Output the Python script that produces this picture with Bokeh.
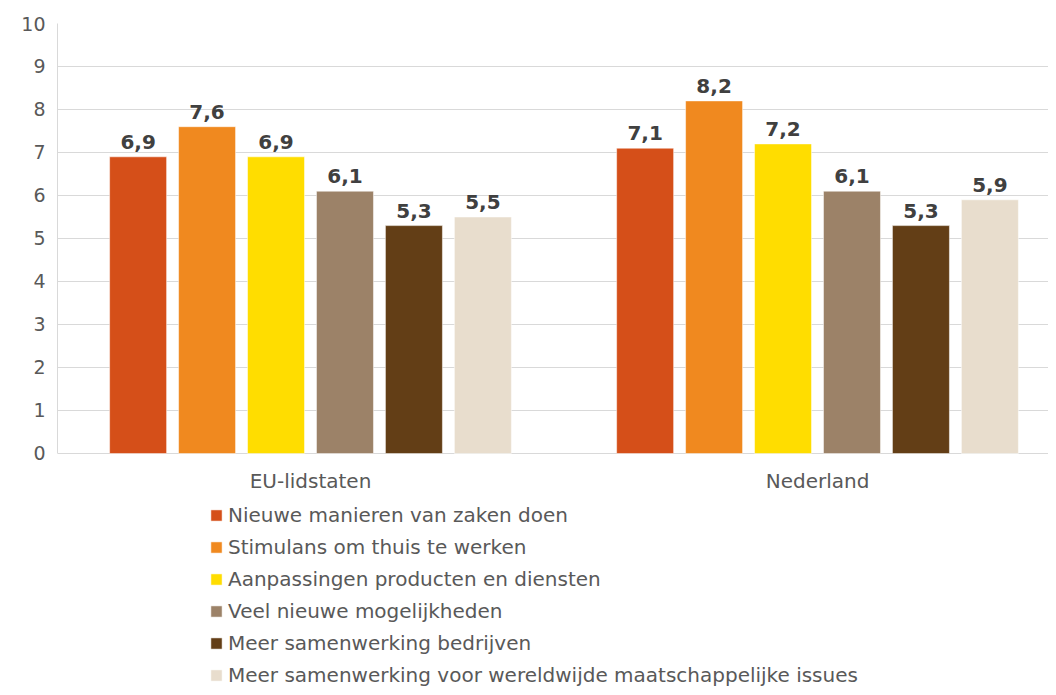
from bokeh.plotting import figure
from bokeh.models import Range1d, FixedTicker, Legend, LegendItem, ColumnDataSource
from bokeh.core.properties import value
from bokeh.embed import file_html
from bokeh.resources import INLINE

categories = ["EU-lidstaten", "Nederland"]
series = [
    "Nieuwe manieren van zaken doen",
    "Stimulans om thuis te werken",
    "Aanpassingen producten en diensten",
    "Veel nieuwe mogelijkheden",
    "Meer samenwerking bedrijven",
    "Meer samenwerking voor wereldwijde maatschappelijke issues",
]
values_eu = [6.9, 7.6, 6.9, 6.1, 5.3, 5.5]
values_nl = [7.1, 8.2, 7.2, 6.1, 5.3, 5.9]
colors = ["#D54F19", "#F0891F", "#FFDD00", "#9C8268", "#633E16", "#E8DDCD"]
y_ticks = list(range(0, 11))

FONT = "DejaVu Sans"
GREY = "#595959"

# frame spans down to the figure bottom; the value axis runs 0..10 (43 px per unit)
p = figure(width=1048, height=687, output_backend="svg", toolbar_location=None,
           x_range=Range1d(-0.499, 1.4556), y_range=Range1d(-5.4419, 10),
           min_border_left=57, min_border_right=0, min_border_top=23,
           min_border_bottom=0)
p.outline_line_color = None

bar_w = 0.1124
step = 0.136
items = []
for i, name in enumerate(series):
    off = (i - 2.5) * step
    vals = [values_eu[i], values_nl[i]]
    src = ColumnDataSource(dict(x=[k + off for k in range(len(categories))], top=vals,
                                lab=[f"{v:.1f}".replace(".", ",") for v in vals]))
    r = p.vbar(x="x", top="top", bottom=0, width=bar_w, source=src,
               fill_color=colors[i], line_color="white", line_width=0.5)
    p.text(x="x", y="top", text="lab", source=src, text_align="center",
           text_baseline="bottom", y_offset=-8, text_font=value(FONT),
           text_font_style="bold", text_font_size="20px", text_color="#404040")
    items.append(LegendItem(label=name, renderers=[r]))

# category labels under the baseline
cat_src = ColumnDataSource(dict(x=list(range(len(categories))), y=[0] * len(categories),
                                t=categories))
p.text(x="x", y="y", text="t", source=cat_src, text_align="center",
       text_baseline="top", y_offset=16, text_font=value(FONT),
       text_font_size="20px", text_color=GREY)

legend = Legend(items=items, location=(152, 0), orientation="vertical",
                label_text_font=FONT, label_text_font_size="20px",
                label_text_color=GREY, glyph_width=14, glyph_height=14,
                label_height=20, spacing=8, label_standoff=5, padding=0,
                margin=0, border_line_color=None, background_fill_alpha=0)
p.add_layout(legend, "center")

p.xaxis.visible = False
p.xgrid.grid_line_color = None

p.yaxis.ticker = FixedTicker(ticks=y_ticks)
p.yaxis.bounds = (0, 10)
p.yaxis.major_tick_line_color = None
p.yaxis.major_tick_out = 0
p.yaxis.minor_tick_line_color = None
p.yaxis.axis_line_color = "#D9D9D9"
p.yaxis.major_label_text_font = FONT
p.yaxis.major_label_text_font_size = "19px"
p.yaxis.major_label_text_color = GREY
p.yaxis.major_label_standoff = 12
p.ygrid.grid_line_color = "#D9D9D9"

open("out.html", "w").write(file_html(p, INLINE))
